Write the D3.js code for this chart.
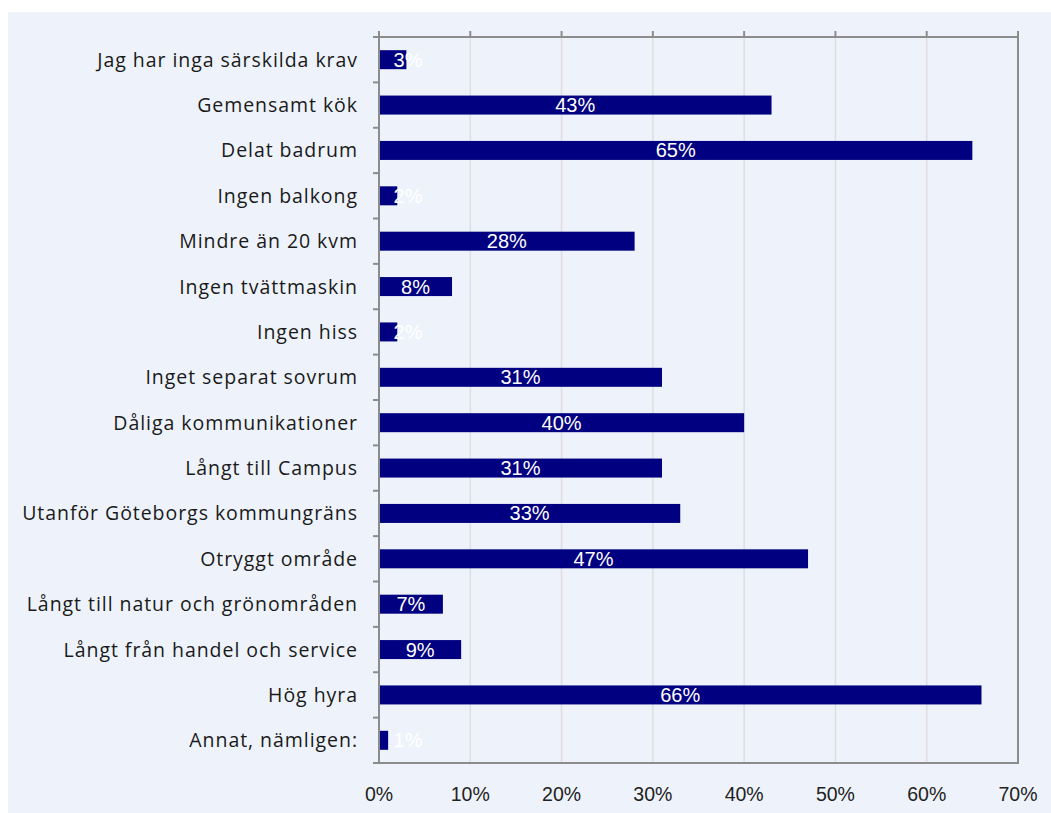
<!DOCTYPE html>
<html><head><meta charset="utf-8">
<script src="https://cdn.jsdelivr.net/npm/d3@7"></script>
<style>body{margin:0;background:#fff;}svg{display:block;}</style>
</head><body>
<script>
const categories = ["Jag har inga särskilda krav","Gemensamt kök","Delat badrum","Ingen balkong","Mindre än 20 kvm","Ingen tvättmaskin","Ingen hiss","Inget separat sovrum","Dåliga kommunikationer","Långt till Campus","Utanför Göteborgs kommungräns","Otryggt område","Långt till natur och grönområden","Långt från handel och service","Hög hyra","Annat, nämligen:"];
const values = [3,43,65,2,28,8,2,31,40,31,33,47,7,9,66,1];
const xTicks = [0,10,20,30,40,50,60,70];

const W = 1051, H = 813;
const m = {left:379, right:1018, top:37, bottom:763};
const svg = d3.select("body").append("svg").attr("width",W).attr("height",H);
svg.append("rect").attr("x",8).attr("y",12).attr("width",W-8).attr("height",H-12).attr("fill","#EEF3FB");

const x = d3.scaleLinear().domain([0,70]).range([m.left,m.right]);
const yb = d3.scaleBand().domain(categories).range([m.top,m.bottom]);

// gridlines
svg.append("g").selectAll("line").data(xTicks.slice(1,-1)).join("line")
  .attr("x1",d=>x(d)).attr("x2",d=>x(d)).attr("y1",m.top).attr("y2",m.bottom)
  .attr("stroke","#DEDEDE").attr("stroke-width",1.5);

// bars
svg.append("g").selectAll("rect").data(values).join("rect")
  .attr("x",x(0)).attr("y",(d,i)=>yb(categories[i])+yb.bandwidth()/2-9.5)
  .attr("width",d=>x(d)-x(0)).attr("height",19).attr("fill","#000080");

// value labels
svg.append("g").selectAll("text").data(values).join("text")
  .attr("x",d=>Math.max((x(d)+x(0))/2, x(0)+29))
  .attr("y",(d,i)=>yb(categories[i])+yb.bandwidth()/2+7)
  .attr("text-anchor","middle").attr("fill","#fff")
  .attr("font-family","Liberation Sans, Arial, sans-serif").attr("font-size",20)
  .text(d=>d+"%");

// frame
const ax = "#8C8C8C";
svg.append("rect").attr("x",m.left).attr("y",m.top).attr("width",m.right-m.left).attr("height",m.bottom-m.top)
  .attr("fill","none").attr("stroke",ax).attr("stroke-width",2);

// top ticks
svg.append("g").selectAll("line").data(xTicks).join("line")
  .attr("x1",d=>x(d)).attr("x2",d=>x(d)).attr("y1",m.top-6).attr("y2",m.top)
  .attr("stroke",ax).attr("stroke-width",2);
// left ticks at band boundaries
const bounds = categories.map(c=>yb(c)).concat([m.bottom]);
svg.append("g").selectAll("line").data(bounds).join("line")
  .attr("x1",m.left-6).attr("x2",m.left).attr("y1",d=>d).attr("y2",d=>d)
  .attr("stroke",ax).attr("stroke-width",2);

// category labels
const cl = svg.append("g").attr("font-family","Open Sans, sans-serif").attr("font-size",19.5).attr("fill","#1a1a1a");
const labs = cl.selectAll("text").data(categories).join("text")
  .attr("x",358).attr("y",c=>yb(c)+yb.bandwidth()/2+7)
  .attr("text-anchor","end")
  .text(c=>c);
const longest = labs.filter(c=>c==="Utanför Göteborgs kommungräns").node();
const w0 = longest.getComputedTextLength();
const ls = (336 - w0) / (categories[10].length);
cl.attr("letter-spacing", ls.toFixed(2));

// x tick labels
svg.append("g").selectAll("text").data(xTicks).join("text")
  .attr("x",d=>x(d)).attr("y",801)
  .attr("text-anchor","middle").attr("fill","#222")
  .attr("font-family","Liberation Sans, Arial, sans-serif").attr("font-size",19.5)
  .text(d=>d+"%");
</script>
</body></html>
